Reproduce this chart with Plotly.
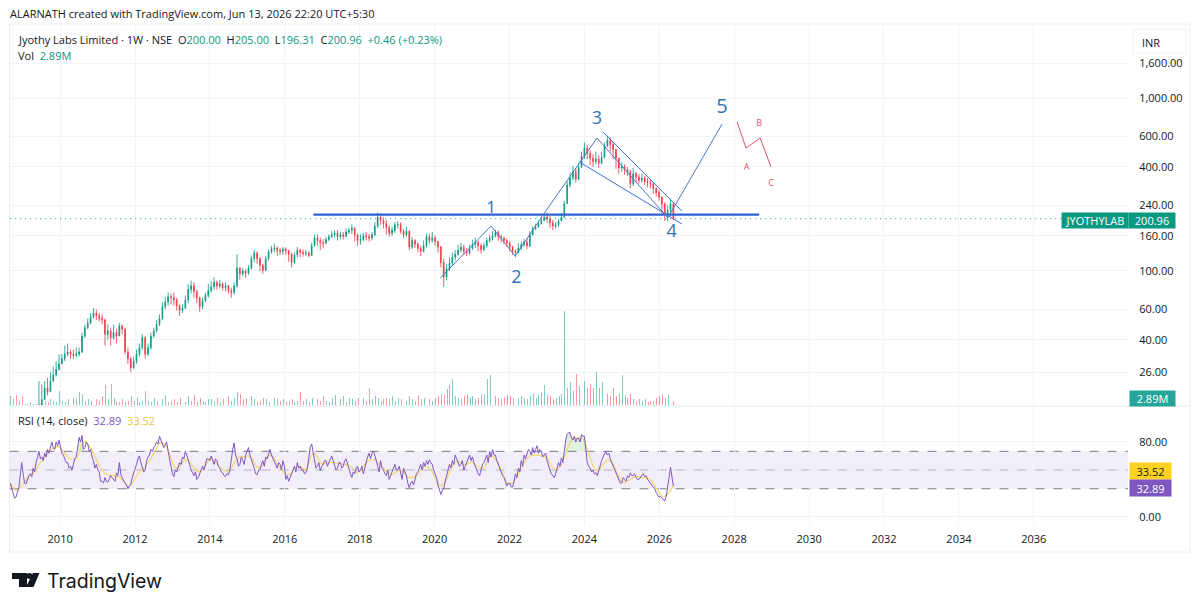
import pandas as pd
import plotly.graph_objects as go

W, H = 1200, 609

# 4-weekly candles (first eleven sit below the visible price range)
closes = [14.5, 13.5, 13, 12.5, 12, 12.5, 13, 13.5, 14, 15, 16.5,
          18, 21, 20, 23, 25, 27, 29,
          31, 33, 34, 33, 32.5, 33, 34, 42, 47, 50, 54, 57, 55,
          53, 52, 43, 45, 41, 44, 42, 48, 46, 34, 31, 27.5, 30,
          33, 36, 41, 33, 36, 42, 45, 49, 53, 62, 66, 71, 70,
          68, 63, 59, 61, 68, 78, 82, 76, 70, 62, 67, 72, 77,
          81, 86, 82, 84, 80, 82, 77, 75, 82, 104, 96, 100, 97,
          104, 118, 127, 118, 108, 101, 118, 129, 134, 136, 132, 130, 134,
          131, 125, 112, 124, 132, 128, 126, 127, 123, 140, 155, 150, 146,
          145, 152, 158, 162, 166, 158, 162, 159, 168, 172, 177, 162, 150,
          152, 160, 158, 155, 162, 182, 205, 196, 188, 178, 165, 172, 185,
          186, 170, 162, 170, 138, 150, 143, 135, 130, 140, 158, 150, 155,
          148, 138, 112, 92, 103, 111, 120, 125, 132, 137, 130, 127, 135,
          142, 147, 140, 133, 140, 150, 155, 160, 167, 158, 155, 150, 145,
          138, 130, 128, 136, 142, 147, 140, 162, 176, 180, 188, 196, 205,
          200, 190, 182, 185, 195, 205, 245, 315, 345, 375, 340, 400, 460,
          515, 480, 450, 430, 445, 420, 455, 530, 570, 540, 505, 450, 395,
          400, 385, 375, 320, 365, 350, 335, 345, 330, 325, 320, 300, 285,
          268, 245, 212, 225, 245, 200.96]
highs = [15, 15, 14, 13.5, 13, 13.5, 14, 14, 15, 16, 23,
         22, 23, 24, 26, 28, 30, 33,
         33, 37, 38, 35, 35, 36, 36, 44, 49, 53, 57, 61, 60,
         57, 56, 53, 49, 47, 49, 46, 50, 49, 47, 36, 32, 32,
         35, 38, 43, 42, 38, 44, 47, 52, 56, 66, 71, 75, 74,
         75, 70, 64, 64, 72, 84, 88, 86, 78, 71, 70, 75, 84,
         87, 92, 88, 89, 86, 86, 83, 80, 86, 125, 105, 104, 102,
         108, 123, 132, 130, 120, 110, 122, 133, 140, 144, 139, 136, 138,
         137, 133, 128, 128, 138, 135, 133, 132, 130, 146, 162, 163, 156,
         153, 157, 163, 170, 172, 172, 168, 168, 176, 178, 186, 180, 164,
         163, 166, 168, 164, 168, 192, 218, 214, 204, 198, 184, 180, 192,
         194, 192, 175, 180, 172, 157, 153, 146, 140, 150, 165, 165, 168,
         160, 150, 139, 118, 110, 120, 128, 132, 142, 146, 142, 136, 142,
         152, 156, 150, 144, 146, 156, 162, 170, 174, 172, 162, 158, 154,
         148, 140, 134, 145, 148, 153, 155, 170, 182, 188, 196, 204, 216,
         218, 208, 198, 192, 200, 215, 255, 330, 370, 405, 390, 420, 490,
         555, 535, 500, 475, 490, 470, 490, 555, 600, 595, 560, 510, 450,
         425, 415, 400, 385, 395, 375, 365, 365, 355, 345, 340, 325, 305,
         295, 270, 250, 240, 262, 250]
lows = [14, 13, 12, 12, 11.5, 12, 12.5, 13, 13.5, 14.5, 15.5,
        15, 18, 19, 20, 23, 24.5, 26.5,
        29, 30, 32, 31, 31, 31.5, 32, 33.5, 41, 46, 49, 53, 52,
        51, 49, 37, 40, 37, 40, 38, 42, 43, 33, 29, 26, 27,
        29, 32, 35, 31, 32, 35, 41, 44, 48, 52, 60, 63, 64,
        63, 59, 55, 57, 60, 65, 74, 70, 65, 58, 60, 66, 70,
        75, 78, 78, 79, 77, 76, 74, 70, 73, 80, 89, 93, 91,
        95, 102, 112, 110, 100, 96, 100, 115, 126, 128, 122, 124, 124,
        124, 113, 105, 110, 120, 120, 121, 122, 120, 122, 139, 140, 132,
        136, 143, 149, 155, 156, 150, 153, 152, 157, 164, 164, 148, 140,
        142, 148, 150, 148, 150, 160, 178, 185, 176, 163, 158, 160, 166,
        176, 164, 155, 158, 132, 134, 136, 128, 122, 128, 136, 144, 146,
        140, 128, 105, 81, 88, 100, 108, 115, 122, 128, 124, 122, 124,
        132, 136, 130, 126, 130, 136, 146, 150, 156, 150, 146, 143, 138,
        130, 124, 120, 126, 132, 138, 134, 138, 160, 172, 178, 186, 194,
        190, 178, 172, 176, 180, 196, 205, 245, 305, 335, 325, 335, 395,
        445, 445, 410, 400, 415, 395, 415, 450, 520, 495, 445, 390, 365,
        375, 360, 355, 300, 310, 325, 320, 325, 315, 305, 300, 280, 270,
        255, 215, 195, 196, 215, 196]
volume_m = [6, 4, 7, 3, 6, 1, 1, 2, 1, 1, 1,
            1, 3, 2, 4, 3, 2, 10,
            3, 2, 4, 2, 5, 4, 9, 8, 3, 4, 3, 2, 4,
            3, 6, 14, 4, 15, 5, 3, 2, 4, 2, 3, 6, 3,
            5, 2, 3, 10, 3, 2, 5, 3, 6, 4, 7, 2, 3,
            4, 2, 5, 3, 2, 6, 3, 7, 2, 5, 3, 2, 4,
            4, 3, 5, 2, 4, 3, 6, 3, 5, 9, 8, 4, 5,
            3, 6, 4, 2, 3, 5, 4, 2, 3, 5, 4, 3, 4,
            2, 3, 4, 2, 3, 9, 3, 4, 2, 5, 2, 4, 3,
            6, 3, 2, 5, 7, 3, 4, 6, 2, 5, 4, 3, 5,
            4, 5, 3, 12, 4, 6, 5, 3, 4, 5, 4, 6, 3,
            5, 4, 9, 3, 6, 4, 3, 7, 4, 5, 3, 4, 3,
            5, 6, 8, 7, 11, 14, 18, 6, 5, 4, 6, 7, 5,
            6, 4, 5, 7, 8, 18, 21, 9, 6, 5, 4, 5, 7,
            6, 5, 8, 4, 6, 5, 4, 6, 8, 5, 7, 9, 14,
            7, 6, 4, 5, 6, 8, 66, 12, 16, 10, 22, 13, 14,
            17, 12, 15, 12, 23, 12, 16, 25, 8, 6, 12, 6, 8,
            21, 7, 5, 8, 4, 3, 4, 3, 4, 2, 3, 3, 5,
            6, 8, 5, 7, 6, 2.89]

# RSI (14, close), one value every two weeks, and its smoothing line every four weeks
rsi = [36, 30, 24, 20, 21, 26, 31, 45, 58, 46, 36, 35, 40, 44, 46, 43, 52, 48, 58, 66, 70, 62,
       64, 60, 68, 64, 72, 68, 76, 80, 74, 72, 80, 76, 82, 74,
       68, 66, 62, 58, 58, 52, 54, 50, 56, 62, 64, 76, 85, 80, 87, 72, 74, 80, 78, 70, 72, 64, 60, 52, 56, 50,
       48, 38, 38, 36, 42, 38, 37, 40, 44, 42, 40, 38, 47, 44, 58, 46, 42, 38, 36, 34, 30, 33, 35, 42, 46, 50,
       56, 62, 65, 58, 52, 48, 50, 60, 64, 66, 72, 70, 74, 76, 80, 78, 86, 82, 80, 74, 77, 80, 70, 62, 50, 46,
       43, 50, 48, 52, 58, 56, 64, 62, 70, 66, 62, 56, 50, 46, 44, 48, 40, 42, 46, 52, 54, 50, 58, 62, 62, 60,
       65, 60, 56, 62, 60, 54, 52, 48, 47, 44, 43, 46, 45, 50, 62, 72, 79, 66, 62, 54, 56, 64, 60, 56, 66, 70,
       74, 66, 62, 58, 52, 46, 45, 50, 50, 56, 60, 54, 64, 62, 68, 72, 66, 62, 58, 54, 52, 58, 56, 50, 60, 54,
       40, 44, 38, 42, 46, 50, 54, 48, 58, 52, 54, 50, 50, 46, 47, 52, 66, 74, 78, 68, 62, 52, 54, 58, 49, 54,
       56, 60, 60, 54, 58, 62, 65, 60, 55, 50, 52, 58, 58, 52, 54, 60, 62, 56, 50, 46, 42, 48, 46, 52, 54, 48,
       50, 54, 46, 52, 60, 64, 68, 62, 68, 70, 66, 58, 54, 48, 60, 52, 50, 46, 44, 50, 40, 44, 48, 52, 56, 50,
       50, 54, 46, 40, 52, 48, 44, 36, 31, 36, 38, 34, 40, 46, 48, 52, 56, 50, 58, 54, 60, 56, 61, 58, 56, 50,
       46, 42, 34, 30, 24, 28, 30, 38, 44, 50, 56, 52, 60, 56, 66, 62, 58, 54, 56, 60, 50, 54, 58, 62, 66, 60,
       64, 58, 54, 48, 46, 44, 50, 56, 58, 62, 66, 58, 70, 64, 72, 66, 66, 60, 56, 50, 48, 44, 42, 38, 33, 36,
       36, 32, 32, 38, 46, 42, 52, 48, 60, 54, 66, 62, 68, 72, 70, 66, 74, 68, 72, 76, 68, 72, 70, 64, 66, 68,
       60, 54, 50, 46, 44, 42, 46, 52, 58, 54, 63, 58, 72, 82, 88, 90, 90, 84, 82, 86, 80, 84, 84, 80, 88, 86,
       86, 72, 58, 54, 52, 48, 50, 46, 47, 44, 50, 56, 60, 64, 68, 70, 66, 68, 62, 58, 56, 52, 48, 42, 38, 36,
       36, 42, 40, 38, 44, 42, 47, 44, 44, 46, 42, 40, 40, 42, 44, 46, 43, 44, 40, 38, 36, 34, 32, 30, 26, 24,
       21, 22, 20, 18, 17, 22, 30, 42, 53, 40, 32.89]
rsi_ma = [36, 32, 28, 30, 34, 38, 41, 44, 46, 50, 56,
          60, 64, 68, 71, 73, 75, 75,
          72, 68, 64, 62, 61, 62, 68, 78, 81, 78, 74, 68, 60,
          54, 50, 46, 45, 44, 44, 43, 43, 40, 36, 33, 34, 38,
          44, 48, 50, 54, 58, 62, 68, 74, 79, 79, 77, 72, 62,
          54, 52, 54, 58, 61, 60, 56, 52, 49, 48, 50, 55, 60,
          63, 60, 57, 54, 50, 49, 49, 52, 58, 62, 64, 64, 64,
          65, 63, 58, 53, 52, 56, 60, 65, 66, 62, 56, 52, 48,
          45, 45, 47, 52, 54, 54, 52, 50, 58, 66, 68, 64, 58,
          56, 58, 58, 58, 58, 57, 57, 56, 56, 55, 52, 49, 47,
          50, 54, 58, 60, 61, 61, 58, 55, 52, 48, 46, 45, 47,
          49, 50, 48, 44, 42, 42, 43, 45, 50, 54, 54, 52, 48,
          42, 36, 33, 35, 40, 48, 54, 58, 59, 58, 56, 56, 58,
          58, 56, 54, 52, 52, 58, 64, 65, 62, 58, 50, 42, 36,
          35, 36, 40, 46, 52, 58, 62, 65, 66, 66, 66, 65, 65,
          63, 58, 52, 50, 52, 56, 64, 72, 80, 84, 84, 84, 84,
          82, 72, 62, 54, 50, 50, 54, 58, 61, 60, 56, 50, 42,
          38, 36, 38, 40, 42, 43, 43, 42, 42, 41, 40, 36, 30,
          26, 22, 22, 24, 28, 33.52]
overbought_spans = [(47, 52), (386, 402)]

# drawings on the chart
wave_dates = ["2020-02-25", "2021-07-05", "2022-02-25", "2022-12-01", "2024-05-03", "2026-03-25", "2027-09-05"]
wave_prices = [91, 182, 122, 214, 589, 203, 709]
wedge_top_dates = ["2024-07-01", "2026-08-10"]
wedge_top_prices = [638, 222]
wedge_low_dates = ["2023-11-15", "2026-08-10"]
wedge_low_prices = [427, 187]
level_dates = ["2016-10-05", "2028-09-01"]
level_prices = [212, 212]
abc_dates = ["2028-01-30", "2028-04-25", "2028-09-10", "2028-12-25"]
abc_prices = [728, 515, 589, 400]

wave_labels = ["1", "2", "3", "4", "5"]
wave_label_dates = ["2021-07-05", "2022-03-10", "2024-05-03", "2026-05-01", "2027-09-05"]
wave_label_prices = [230, 90, 749, 166, 878]
wave_label_sizes = [17, 18, 18, 18, 20]
abc_labels = ["A", "B", "C"]
abc_label_dates = ["2028-05-01", "2028-09-01", "2028-12-25"]
abc_label_prices = [397, 712, 320]

price_ticks = [26, 40, 60, 100, 160, 240, 400, 600, 1000, 1600]
rsi_ticks = [0, 80]
year_ticks = ["2010-01-01", "2012-01-01", "2014-01-01", "2016-01-01", "2018-01-01", "2020-01-01", "2022-01-01",
              "2024-01-01", "2026-01-01", "2028-01-01", "2030-01-01", "2032-01-01", "2034-01-01", "2036-01-01"]

dates = pd.date_range("2008-09-01", periods=len(closes), freq="28D")
rsi_dates = pd.date_range("2008-09-01", periods=len(rsi), freq="14D")
opens = [closes[0]] + closes[:-1]

UP = "#089981"
DOWN = "#F23645"
TEXT = "#131722"
GRID = "#f0f3fa"
BLUE = "#4a78c8"
RED = "#e2536b"
LABEL = "#2f74b5"
FONT = "Open Sans"


def px(x):
    return x / W


def py(y):
    return 1 - y / H


fig = go.Figure()

vol_colors = ["rgba(8,153,129,0.5)" if c >= o else "rgba(242,54,69,0.5)" for o, c in zip(opens, closes)]
fig.add_trace(go.Bar(x=dates, y=volume_m, marker_color=vol_colors, marker_line_width=0, width=1000 * 3600 * 24 * 9,
                     xaxis="x", yaxis="y3"))

fig.add_trace(go.Candlestick(x=dates, open=opens, high=highs, low=lows, close=closes,
                             increasing=dict(line=dict(color=UP, width=0.8), fillcolor=UP),
                             decreasing=dict(line=dict(color=DOWN, width=0.8), fillcolor=DOWN),
                             whiskerwidth=0, xaxis="x", yaxis="y"))

fig.add_trace(go.Scatter(x=[dates[0], "2038-07-08"], y=[closes[-1], closes[-1]], mode="lines",
                         line=dict(color=UP, width=1, dash="1px,4px"), xaxis="x", yaxis="y"))
fig.add_trace(go.Scatter(x=level_dates, y=level_prices, mode="lines", line=dict(color="#2f5fd6", width=2.2),
                         xaxis="x", yaxis="y"))
fig.add_trace(go.Scatter(x=wave_dates, y=wave_prices, mode="lines", line=dict(color=BLUE, width=1),
                         xaxis="x", yaxis="y"))
fig.add_trace(go.Scatter(x=wedge_top_dates, y=wedge_top_prices, mode="lines", line=dict(color="#3f6fdc", width=1),
                         xaxis="x", yaxis="y"))
fig.add_trace(go.Scatter(x=wedge_low_dates, y=wedge_low_prices, mode="lines", line=dict(color="#3f6fdc", width=1),
                         xaxis="x", yaxis="y"))
fig.add_trace(go.Scatter(x=abc_dates, y=abc_prices, mode="lines", line=dict(color=RED, width=1),
                         xaxis="x", yaxis="y"))
fig.add_trace(go.Scatter(x=wave_label_dates, y=wave_label_prices, mode="text", text=wave_labels,
                         textfont=dict(color=LABEL, size=wave_label_sizes, family=FONT), xaxis="x", yaxis="y"))
fig.add_trace(go.Scatter(x=abc_label_dates, y=abc_label_prices, mode="text", text=abc_labels,
                         textfont=dict(color=RED, size=9, family=FONT), xaxis="x", yaxis="y"))

# overbought patches of the RSI
for start, stop in overbought_spans:
    xs = list(rsi_dates[start:stop])
    ys = rsi[start:stop]
    fig.add_trace(go.Scatter(x=xs + xs[::-1], y=ys + [70] * len(xs), fill="toself", mode="none",
                             fillcolor="rgba(76,175,80,0.18)", xaxis="x2", yaxis="y2"))

fig.add_trace(go.Scatter(x=dates, y=rsi_ma, mode="lines", line=dict(color="#f3d66a", width=1.2), xaxis="x2", yaxis="y2"))
fig.add_trace(go.Scatter(x=rsi_dates, y=rsi, mode="lines", line=dict(color="#7e57c2", width=1), xaxis="x2", yaxis="y2"))

shapes = [
    # RSI band and its dashed levels
    dict(type="rect", xref="x2", yref="y2", x0="2008-08-25", x1="2038-07-08", y0=30, y1=70, layer="below",
         fillcolor="rgba(126,87,194,0.1)", line_width=0),
    dict(type="line", xref="x2", yref="y2", x0="2008-08-25", x1="2038-07-08", y0=70, y1=70, layer="below",
         line=dict(color="#787b86", width=1, dash="dash")),
    dict(type="line", xref="x2", yref="y2", x0="2008-08-25", x1="2038-07-08", y0=50, y1=50, layer="below",
         line=dict(color="rgba(120,123,134,0.5)", width=1, dash="dash")),
    dict(type="line", xref="x2", yref="y2", x0="2008-08-25", x1="2038-07-08", y0=30, y1=30, layer="below",
         line=dict(color="#787b86", width=1, dash="dash")),
    # chart frame and pane separator
    dict(type="rect", xref="paper", yref="paper", x0=px(9.5), x1=px(1190), y0=py(552), y1=py(24),
         line=dict(color="#eceef2", width=1), layer="below"),
    dict(type="line", xref="paper", yref="paper", x0=px(9.5), x1=px(1190), y0=py(406), y1=py(406),
         line=dict(color="#e4e6ea", width=1), layer="below"),
    # INR box
    dict(type="rect", xref="paper", yref="paper", x0=px(1133), x1=px(1186), y0=py(53), y1=py(29),
         line=dict(color="#f0f1f4", width=1), fillcolor="white"),
    # TradingView mark
    dict(type="path", xref="paper", yref="paper", fillcolor="#131722", line_width=0,
         path=f"M {px(12)} {py(573)} L {px(27)} {py(573)} L {px(27)} {py(587)} L {px(19)} {py(587)} "
              f"L {px(19)} {py(579)} L {px(12)} {py(579)} Z"),
    dict(type="circle", xref="paper", yref="paper", fillcolor="#131722", line_width=0,
         x0=px(26.5), x1=px(32.5), y0=py(579), y1=py(573)),
    dict(type="path", xref="paper", yref="paper", fillcolor="#131722", line_width=0,
         path=f"M {px(33)} {py(573)} L {px(39.5)} {py(573)} L {px(33.5)} {py(587)} L {px(26)} {py(587)} Z"),
]


def note(x, y, text, size=11, color=TEXT, anchor="left", bg=None, w=None, h=None, family=FONT):
    return dict(x=px(x), y=py(y), xref="paper", yref="paper", text=text, showarrow=False,
                xanchor=anchor, yanchor="middle", font=dict(size=size, color=color, family=family),
                bgcolor=bg, width=w, height=h, borderpad=0, align="center" if bg else "left")


def v(text):
    return f'<span style="color:{UP}">{text}</span>'


GAP = "\u00a0\u00a0"
header = ("Jyothy Labs Limited · 1W · NSE" + GAP + "O" + v("200.00") + GAP + "H" + v("205.00") + GAP + "L" + v("196.31")
          + GAP + "C" + v("200.96") + GAP + v("+0.46 (+0.23%)"))

annotations = [
    note(9, 14, "ALARNATH created with TradingView.com, Jun 13, 2026 22:20 UTC+5:30", size=11),
    note(17, 39, header, size=11),
    note(17, 55, "Vol" + GAP + v("2.89M"), size=11),
    note(17, 420, "RSI (14, close)" + GAP + '<span style="color:#7e57c2">32.89</span>' + GAP
         + '<span style="color:#e9c93c">33.52</span>', size=11),
    note(1141, 42, "INR", size=11),
    note(1095, 220, "JYOTHYLAB", size=11, color="white", anchor="center", bg=UP, w=66, h=15),
    note(1152, 220, "200.96", size=11, color="white", anchor="center", bg=UP, w=46, h=15),
    note(1152, 398.5, "2.89M", size=11, color="white", anchor="center", bg="#26a69a", w=45, h=15),
    note(1150, 471, "33.52", size=11, color=TEXT, anchor="center", bg="#ffd21f", w=41, h=16),
    note(1150, 487.5, "32.89", size=11, color="white", anchor="center", bg="#7e57c2", w=41, h=16),
    note(46, 581, "TradingView", size=19.5, color="#131722", family="Inter"),
]

x_range = ["2008-08-25", "2038-07-08"]
x_axis = dict(type="date", range=x_range, domain=[px(9.5), px(1128)], showgrid=True, gridcolor=GRID, gridwidth=1,
              tickvals=year_ticks, zeroline=False, showline=False, rangeslider=dict(visible=False))

fig.update_layout(
    width=W, height=H, margin=dict(l=0, r=0, t=0, b=0), autosize=False,
    paper_bgcolor="white", plot_bgcolor="white", showlegend=False, bargap=0, barmode="overlay", boxgap=0.6,
    font=dict(family=FONT, color=TEXT, size=11),
    xaxis=dict(x_axis, anchor="y", showticklabels=False),
    xaxis2=dict(x_axis, anchor="y2", tickformat="%Y", ticks="outside", ticklen=4, tickcolor="white",
                tickfont=dict(size=11, color=TEXT)),
    yaxis=dict(type="log", range=[1.224, 3.43], domain=[py(405), py(24)], side="right", anchor="x",
               tickvals=price_ticks, tickformat=",.2f", gridcolor=GRID, zeroline=False, showline=False,
               tickfont=dict(size=11, color=TEXT), ticks="outside", ticklen=8, tickcolor="white"),
    yaxis2=dict(range=[-8.7, 118.4], domain=[py(525), py(406)], side="right", anchor="x2",
                tickvals=rsi_ticks, tickformat=".2f", gridcolor=GRID, zeroline=False, showline=False,
                tickfont=dict(size=11, color=TEXT), ticks="outside", ticklen=8, tickcolor="white"),
    yaxis3=dict(range=[0, 267], overlaying="y", side="right", anchor="x", visible=False, showgrid=False),
    shapes=shapes, annotations=annotations,
)

fig.write_html("out.html", config=dict(displayModeBar=False), post_script="document.body.style.margin='0';")
